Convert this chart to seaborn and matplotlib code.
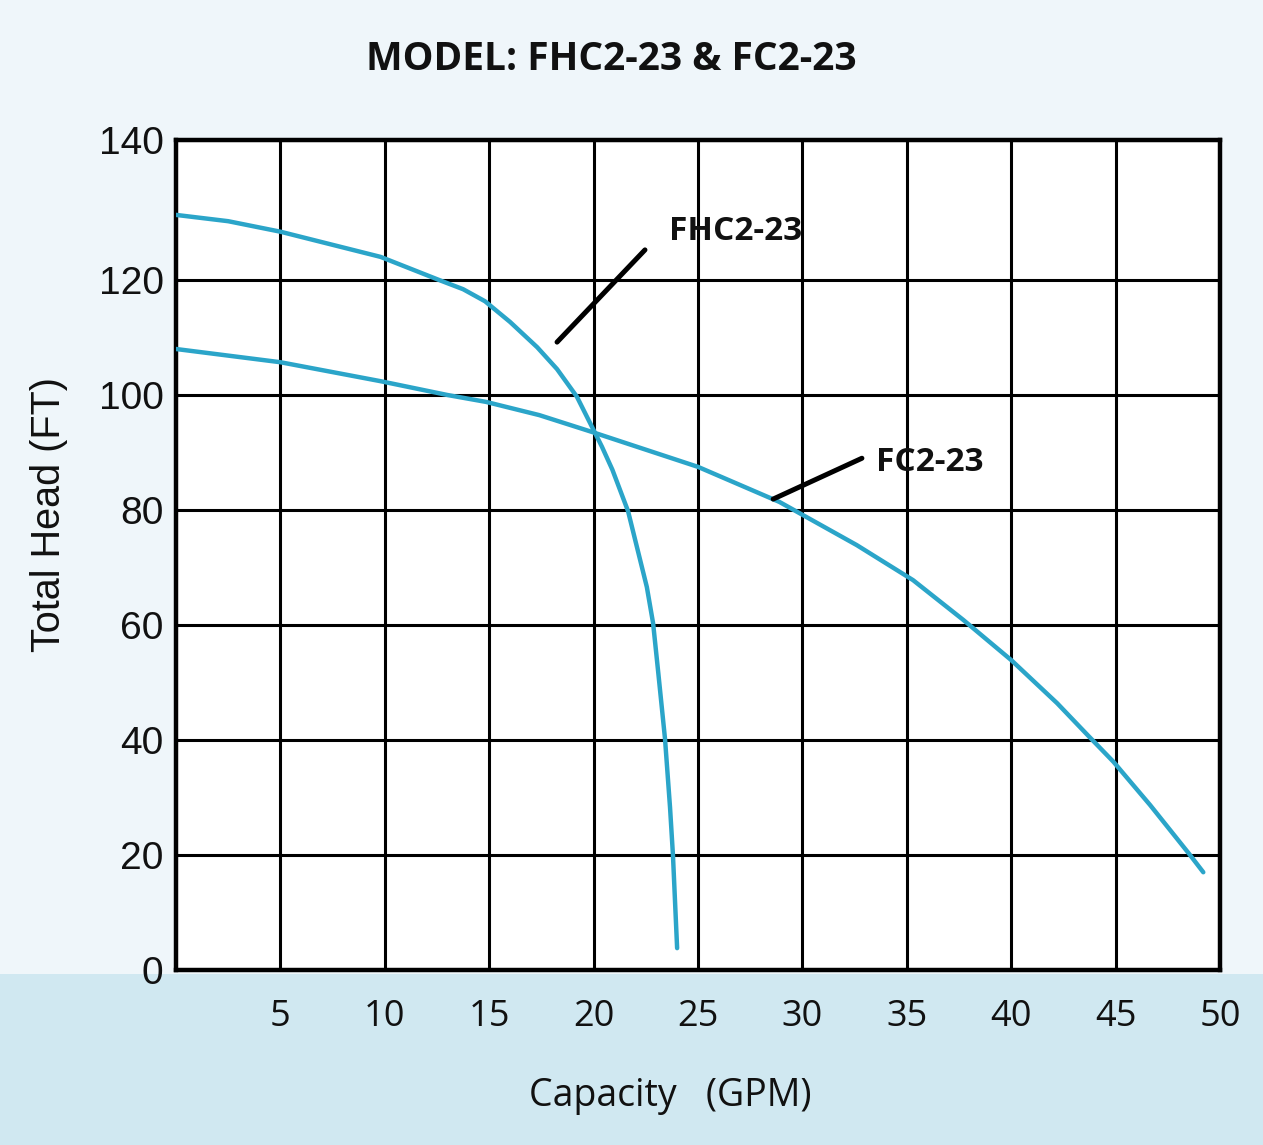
import numpy as np
import pandas as pd
import matplotlib
matplotlib.use("Agg")
import matplotlib.pyplot as plt
import seaborn as sns

# ---- data ----
fhc_x = [0, 2.5, 5, 7.4, 9.8, 12.6, 13.75, 14.8, 16.0, 17.3, 18.25, 19.2, 20.0,
         20.4, 20.9, 21.65, 22.55, 22.85, 23.1, 23.42, 23.66, 23.8, 24.0]
fhc_y = [129.3, 128.4, 126.9, 125.1, 123.3, 120.0, 118.4, 116.3, 112.7, 108.3,
         104.5, 99.7, 93.9, 91.0, 87.0, 79.8, 66.6, 60.3, 51.6, 40.2, 28.3,
         20.0, 3.8]
fc_x = [0, 5, 9.8, 13, 14.85, 17.4, 19.9, 25, 28.9, 32.6, 35.3, 37.7, 40, 42.2,
        43.7, 44.9, 46.65, 48.5, 49.2]
fc_y = [108.0, 105.7, 102.4, 100.0, 98.8, 96.5, 93.6, 87.5, 81.4, 73.9, 67.8,
        60.9, 53.9, 46.4, 40.7, 36.2, 28.7, 20.3, 17.0]

x_ticks = [5, 10, 15, 20, 25, 30, 35, 40, 45, 50]
y_ticks = [0, 20, 40, 60, 80, 100, 120, 140]

title = "MODEL: FHC2-23 & FC2-23"
x_label = "Capacity   (GPM)"
y_label = "Total Head (FT)"
labels = ["FHC2-23", "FC2-23"]

df = pd.concat([
    pd.DataFrame({"Capacity": fhc_x, "Head": fhc_y, "Model": labels[0]}),
    pd.DataFrame({"Capacity": fc_x, "Head": fc_y, "Model": labels[1]}),
], ignore_index=True)

# ---- style ----
sns.set_style("whitegrid")
plt.rcParams["font.family"] = ["Open Sans", "DejaVu Sans"]

W, H = 1263, 1145
fig = plt.figure(figsize=(W / 100, H / 100), dpi=100)
fig.patch.set_facecolor("#eff6fa")
# light blue lower band
fig.add_artist(plt.Rectangle((0, 0), 1, (H - 974) / H, transform=fig.transFigure,
                             facecolor="#d0e8f1", edgecolor="none", zorder=0))

ax = fig.add_axes([176 / W, 1 - 970 / H, (1220 - 176) / W, (970 - 140) / H])
ax.set_facecolor("white")

# piecewise y scale: the 120-140 band in the reference is taller than the others
k = 140 / 115
def fwd(y):
    y = np.asarray(y, dtype=float)
    return np.where(y <= 120, y, 120 + (y - 120) * k)
def inv(v):
    v = np.asarray(v, dtype=float)
    return np.where(v <= 120, v, 120 + (v - 120) / k)
ax.set_yscale("function", functions=(fwd, inv))

line_color = "#2ba5c9"
sns.lineplot(data=df, x="Capacity", y="Head", units="Model", estimator=None,
             color=line_color, linewidth=3.2, ax=ax, legend=False, zorder=3)
for ln in ax.get_lines():
    ln.set_solid_joinstyle("round")
    ln.set_solid_capstyle("round")

ax.set_xlim(0, 50)
ax.set_ylim(0, 140)
ax.set_xticks(x_ticks)
ax.set_yticks(y_ticks)
ax.set_xticklabels([str(t) for t in x_ticks], fontsize=26, family="Open Sans")
ax.set_yticklabels([str(t) for t in y_ticks], fontsize=28, family="Liberation Sans")
ax.tick_params(axis="both", length=0, colors="#111111")
ax.tick_params(axis="x", pad=21)
ax.tick_params(axis="y", pad=9)

ax.grid(True, color="black", linewidth=2.2)
ax.set_axisbelow(True)
for s in ax.spines.values():
    s.set_visible(True)
    s.set_color("black")
    s.set_linewidth(3.2)

ax.set_xlabel(x_label, fontsize=27, family="Open Sans", labelpad=30, color="#111111")
ax.set_ylabel(y_label, fontsize=28.5, family="Liberation Sans", labelpad=22, color="#111111")
ax.xaxis.label.set_x((670 - 176) / 1044)
ax.yaxis.label.set_y((970 - 515) / 830)

fig.text(611 / W, 1 - 60 / H, title, ha="center", va="center", fontsize=28,
         fontweight="bold", family="Open Sans", color="#111111")

# leader lines and annotations
ax.plot([18.25, 22.46], [109.2, 124.3], color="black", linewidth=3.6, zorder=4,
        solid_capstyle="round")
ax.text(26.8, 126.9, labels[0], fontsize=24, fontweight="bold", family="Open Sans",
        ha="center", va="center", color="#111111", zorder=5)
ax.plot([28.6, 32.85], [81.9, 89.0], color="black", linewidth=3.6, zorder=4,
        solid_capstyle="round")
ax.text(36.1, 88.2, labels[1], fontsize=24, fontweight="bold", family="Open Sans",
        ha="center", va="center", color="#111111", zorder=5)

fig.savefig("out.png", dpi=100, facecolor=fig.get_facecolor())
